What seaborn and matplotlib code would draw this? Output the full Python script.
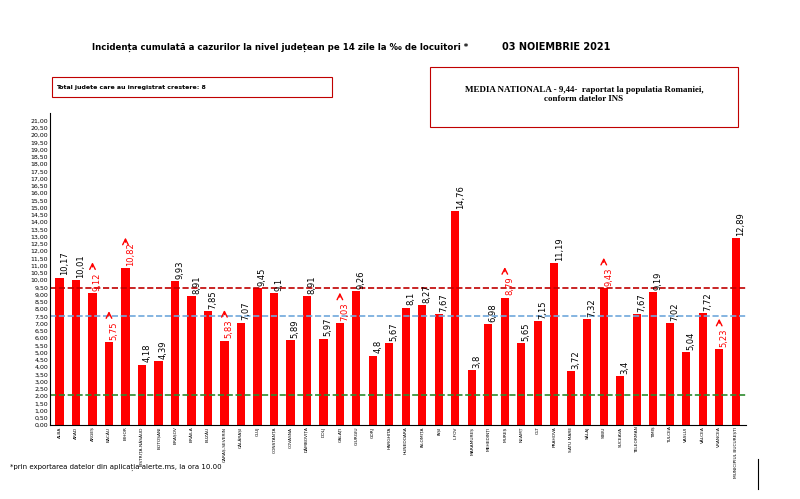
import matplotlib
matplotlib.use("Agg")
import matplotlib.pyplot as plt
import seaborn as sns
import numpy as np
import pandas as pd
from matplotlib.patches import Rectangle

counties = ["ALBA", "ARAD", "ARGEȘ", "BACĂU", "BIHOR", "BISTRIȚA-NĂSĂUD", "BOTOȘANI", "BRAȘOV",
            "BRĂILA", "BUZĂU", "CARAȘ-SEVERIN", "CĂLĂRAȘI", "CLUJ", "CONSTANȚA", "COVASNA",
            "DÂMBOVIȚA", "DOLJ", "GALAȚI", "GIURGIU", "GORJ", "HARGHITA", "HUNEDOARA", "IALOMIȚA",
            "IAȘI", "ILFOV", "MARAMUREȘ", "MEHEDINȚI", "MUREȘ", "NEAMȚ", "OLT", "PRAHOVA",
            "SATU MARE", "SĂLAJ", "SIBIU", "SUCEAVA", "TELEORMAN", "TIMIȘ", "TULCEA", "VASLUI",
            "VÂLCEA", "VRANCEA", "MUNICIPIUL BUCUREȘTI"]
values = [10.17, 10.01, 9.12, 5.75, 10.82, 4.18, 4.39, 9.93, 8.91, 7.85, 5.83, 7.07, 9.45, 9.1,
          5.89, 8.91, 5.97, 7.03, 9.26, 4.8, 5.67, 8.1, 8.27, 7.67, 14.76, 3.8, 6.98, 8.79, 5.65,
          7.15, 11.19, 3.72, 7.32, 9.43, 3.4, 7.67, 9.19, 7.02, 5.04, 7.72, 5.23, 12.89]
rising = ["ARGEȘ", "BACĂU", "BIHOR", "CARAȘ-SEVERIN", "GALAȚI", "MUREȘ", "SIBIU", "VRANCEA"]
media = 9.44
blue_level = 7.5
green_level = 2.1

df = pd.DataFrame({"judet": counties, "val": values})

fig = plt.figure(figsize=(8, 4.99), dpi=100)
ax = fig.add_axes([0.062, 0.148, 0.87, 0.625])
sns.barplot(data=df, x="judet", y="val", color="#ff0000", width=0.5, ax=ax, saturation=1)

ax.set_ylim(0, 21.5)
ticks = np.arange(0, 21.01, 0.5)
ax.set_yticks(ticks)
ax.set_yticklabels([f"{t:.2f}".replace(".", ",") for t in ticks], fontsize=4.5)
ax.set_xticks(range(len(counties)))
ax.set_xticklabels(counties, rotation=90, fontsize=3.2)
ax.set_xlabel("")
ax.set_ylabel("")
ax.set_xlim(-0.6, len(counties) - 0.4)
for s in ["top", "right"]:
    ax.spines[s].set_visible(False)
ax.tick_params(length=0, pad=1)

ax.axhline(media, color="#c00000", ls="--", lw=1.2)
ax.axhline(blue_level, color="#6fa8dc", ls="--", lw=1.2)
ax.axhline(green_level, color="#2e8b2e", ls="--", lw=1.2)

for i, (c, v) in enumerate(zip(counties, values)):
    red = c in rising
    ax.text(i + 0.3, v + 0.15, f"{v:g}".replace(".", ","), rotation=90, fontsize=6,
            ha="center", va="bottom", color="#ff0000" if red else "black")
    if red:
        ax.annotate("", xy=(i, v + 2.3), xytext=(i, v + 1.6),
                    arrowprops=dict(arrowstyle="->", color="#ff0000", lw=1))

fig.text(0.35, 0.9, "Incidența cumulată a cazurilor la nivel județean pe 14 zile la ‰ de locuitori *",
         ha="center", fontsize=6.2, fontweight="bold")
fig.text(0.695, 0.9, "03 NOIEMBRIE 2021", ha="center", fontsize=7, fontweight="bold")
fig.patches.append(Rectangle((0.065, 0.805), 0.35, 0.04, transform=fig.transFigure,
                             fill=False, ec="#c00000", lw=0.8))
fig.text(0.07, 0.825, "Total judete care au inregistrat crestere: 8", fontsize=4.5,
         fontweight="bold", va="center")
fig.patches.append(Rectangle((0.537, 0.745), 0.385, 0.12, transform=fig.transFigure,
                             fill=False, ec="#c00000", lw=0.8))
fig.text(0.73, 0.81, "MEDIA NATIONALA - 9,44-  raportat la populatia Romaniei,\nconform datelor INS",
         ha="center", va="center", fontsize=6.5, fontweight="bold", family="Liberation Serif")
fig.text(0.012, 0.06, "*prin exportarea datelor din aplicația alerte.ms, la ora 10.00", fontsize=5)
fig.add_artist(plt.Line2D([0.947, 0.947], [0.02, 0.08], color="black", lw=0.8))

fig.savefig("out.png", dpi=100)
